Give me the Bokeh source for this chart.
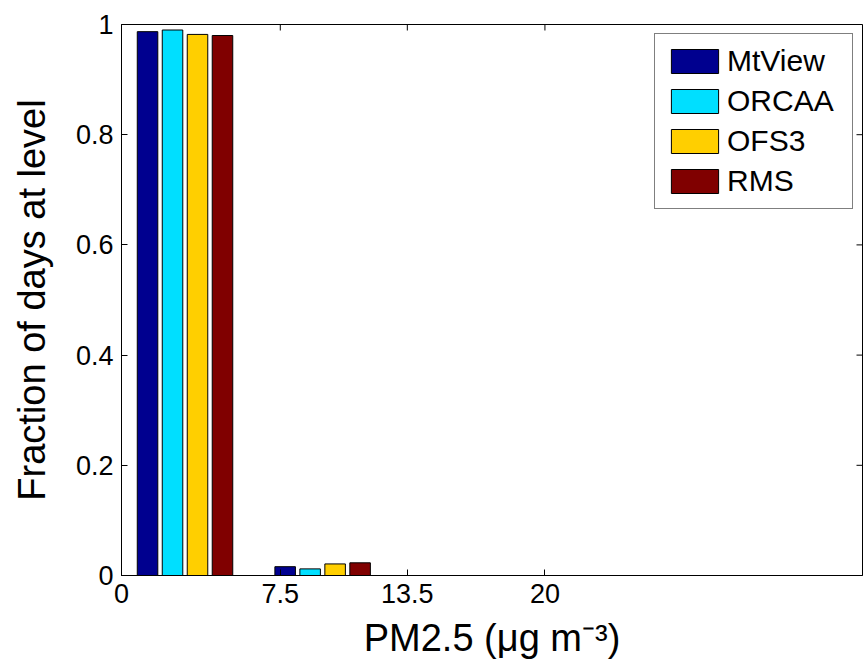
import math
from bokeh.plotting import figure
from bokeh.models import Range1d, FixedTicker, ColumnDataSource
from bokeh.transform import dodge
from bokeh.embed import file_html
from bokeh.resources import INLINE

# ---- data ----
bin_centers = [3.0, 9.5]
series_names = ["MtView", "ORCAA", "OFS3", "RMS"]
mtview = [0.987, 0.016]
orcaa = [0.990, 0.012]
ofs3 = [0.982, 0.021]
rms = [0.980, 0.023]
colors = ["#00008F", "#00DFFF", "#FFCF00", "#800000"]

x_ticks = [0, 7.5, 13.5, 20]
x_tick_labels = ["0", "7.5", "13.5", "20"]
y_ticks = [0, 0.2, 0.4, 0.6, 0.8, 1]
y_tick_labels = ["0", "0.2", "0.4", "0.6", "0.8", "1"]
x_min, x_max = 0, 35
y_min, y_max = 0, 1

FONT = "Liberation Sans"

src = ColumnDataSource(dict(x=bin_centers, MtView=mtview, ORCAA=orcaa, OFS3=ofs3, RMS=rms))

p = figure(frame_width=741, frame_height=551, output_backend="svg", toolbar_location=None,
           x_range=Range1d(x_min, x_max), y_range=Range1d(y_min, y_max),
           min_border_left=121, min_border_top=24, min_border_right=2, min_border_bottom=94)
p.background_fill_color = "white"
p.border_fill_color = "white"
p.outline_line_color = "black"
p.outline_line_width = 1
p.xgrid.visible = False
p.ygrid.visible = False

offsets = [-1.77, -0.59, 0.59, 1.77]
for name, off, col in zip(series_names, offsets, colors):
    p.vbar(x=dodge("x", off, range=p.x_range), top=name, width=0.97, source=src,
           fill_color=col, line_color="black", line_width=1, legend_label=name)

# mirrored inward ticks on top and right edges
p.ray(x=x_ticks, y=[y_max] * len(x_ticks), length=6, length_units="screen",
      angle=-math.pi / 2, line_color="black", line_width=1)
p.ray(x=[x_max] * len(y_ticks), y=y_ticks, length=6, length_units="screen",
      angle=math.pi, line_color="black", line_width=1)

def style_axis(ax):
    ax.axis_line_color = "black"
    ax.major_tick_in = 6
    ax.major_tick_out = 0
    ax.minor_tick_line_color = None
    ax.major_tick_line_color = "black"
    ax.major_label_text_font = FONT
    ax.major_label_text_font_size = "27px"
    ax.major_label_text_color = "black"
    ax.axis_label_text_font = FONT
    ax.axis_label_text_font_size = "38px"
    ax.axis_label_text_font_style = "normal"
    ax.axis_label_text_color = "black"

xax = p.xaxis[0]
xax.ticker = FixedTicker(ticks=x_ticks)
xax.major_label_overrides = dict(zip(x_ticks, x_tick_labels))
xax.axis_label = "PM2.5 (\u03bcg m\u207b\u00b3)"
style_axis(xax)
xax.major_label_standoff = 8
xax.axis_label_standoff = 11

yax = p.yaxis[0]
yax.ticker = FixedTicker(ticks=y_ticks)
yax.major_label_overrides = dict(zip(y_ticks, y_tick_labels))
yax.axis_label = "Fraction of days at level"
style_axis(yax)
yax.major_label_standoff = 8
yax.axis_label_standoff = 20

lg = p.legend[0]
lg.location = "top_right"
lg.margin = 9
lg.padding = 10
lg.spacing = 6
lg.glyph_width = 59
lg.glyph_height = 30
lg.label_height = 30
lg.label_width = 115
lg.label_standoff = 3
lg.label_text_font = FONT
lg.label_text_font_size = "30px"
lg.label_text_color = "black"
lg.border_line_color = "black"
lg.border_line_width = 1
lg.background_fill_alpha = 1

open("out.html", "w").write(file_html(p, INLINE))
